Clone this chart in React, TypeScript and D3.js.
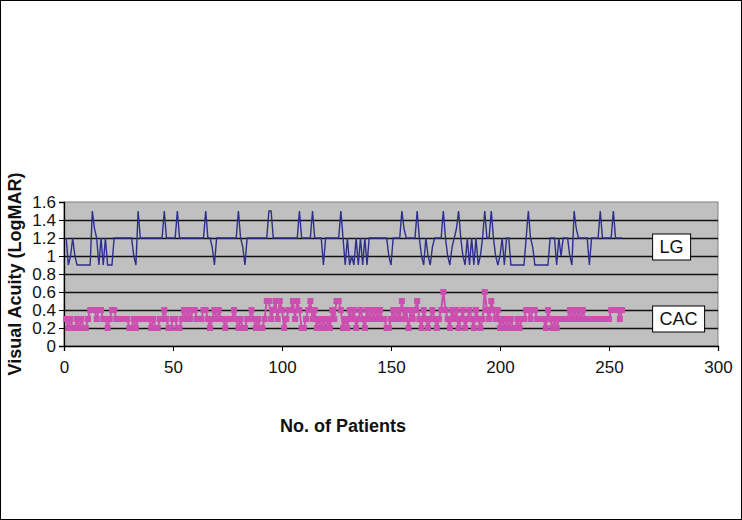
import { useEffect, useRef } from 'react';
import * as d3 from 'd3';

// Visual acuity per patient (LogMAR), patients 1..256
const lgValues = [
  1.2, 0.9, 1.0, 1.2, 1.0, 0.9, 0.9, 0.9, 0.9, 0.9,
  0.9, 0.9, 1.5, 1.3, 1.2, 0.9, 1.2, 0.9, 1.2, 0.9,
  0.9, 0.9, 1.2, 1.2, 1.2, 1.2, 1.2, 1.2, 1.2, 1.2,
  1.2, 1.0, 0.9, 1.5, 1.2, 1.2, 1.2, 1.2, 1.2, 1.2,
  1.2, 1.2, 1.2, 1.2, 1.2, 1.5, 1.2, 1.2, 1.2, 1.2,
  1.2, 1.5, 1.2, 1.2, 1.2, 1.2, 1.2, 1.2, 1.2, 1.2,
  1.2, 1.2, 1.2, 1.2, 1.5, 1.2, 1.2, 1.1, 0.9, 1.2,
  1.2, 1.2, 1.2, 1.2, 1.2, 1.2, 1.2, 1.2, 1.2, 1.5,
  1.2, 1.1, 0.9, 1.2, 1.2, 1.2, 1.2, 1.2, 1.2, 1.2,
  1.2, 1.2, 1.2, 1.5, 1.5, 1.2, 1.2, 1.2, 1.2, 1.2,
  1.2, 1.2, 1.2, 1.2, 1.2, 1.2, 1.2, 1.5, 1.2, 1.2,
  1.2, 1.2, 1.2, 1.5, 1.2, 1.2, 1.2, 1.2, 0.9, 1.2,
  1.2, 1.2, 1.2, 1.2, 1.2, 1.2, 1.5, 1.2, 0.9, 1.2,
  0.9, 1.0, 0.9, 1.2, 0.9, 1.2, 0.9, 1.2, 0.9, 1.2,
  1.2, 1.2, 1.2, 1.2, 1.2, 1.2, 1.2, 1.2, 1.0, 0.9,
  1.2, 1.2, 1.2, 1.2, 1.5, 1.3, 1.2, 1.2, 1.2, 1.2,
  1.2, 1.5, 1.2, 1.0, 0.9, 1.2, 1.0, 0.9, 1.1, 1.2,
  1.2, 1.2, 1.2, 1.5, 1.2, 1.0, 0.9, 1.1, 1.2, 1.3,
  1.5, 1.2, 1.0, 0.9, 1.2, 0.9, 1.2, 0.9, 1.2, 0.9,
  1.0, 1.2, 1.5, 1.2, 1.2, 1.5, 1.2, 1.0, 0.9, 1.0,
  1.2, 0.9, 1.2, 1.2, 0.9, 0.9, 0.9, 0.9, 0.9, 0.9,
  0.9, 1.2, 1.5, 1.2, 1.1, 0.9, 0.9, 0.9, 0.9, 0.9,
  0.9, 0.9, 1.2, 1.2, 1.2, 0.9, 1.2, 1.0, 1.2, 1.2,
  1.2, 1.0, 0.9, 1.5, 1.3, 1.2, 1.2, 1.2, 1.2, 1.2,
  0.9, 1.2, 1.2, 1.2, 1.2, 1.5, 1.2, 1.2, 1.2, 1.2,
  1.2, 1.5, 1.2, 1.2, 1.2, 1.2,
];

const cacValues = [
  0.3, 0.2, 0.3, 0.2, 0.2, 0.3, 0.2, 0.3, 0.2, 0.2,
  0.3, 0.4, 0.4, 0.4, 0.3, 0.4, 0.4, 0.3, 0.3, 0.2,
  0.3, 0.4, 0.4, 0.3, 0.3, 0.3, 0.3, 0.3, 0.3, 0.2,
  0.2, 0.3, 0.2, 0.3, 0.3, 0.3, 0.3, 0.3, 0.3, 0.2,
  0.3, 0.2, 0.2, 0.3, 0.3, 0.4, 0.3, 0.2, 0.2, 0.3,
  0.3, 0.2, 0.2, 0.3, 0.4, 0.3, 0.4, 0.3, 0.4, 0.4,
  0.3, 0.3, 0.3, 0.4, 0.4, 0.3, 0.2, 0.3, 0.4, 0.3,
  0.4, 0.3, 0.3, 0.2, 0.3, 0.3, 0.3, 0.4, 0.3, 0.2,
  0.3, 0.2, 0.2, 0.3, 0.3, 0.4, 0.3, 0.2, 0.3, 0.2,
  0.2, 0.3, 0.5, 0.5, 0.3, 0.4, 0.5, 0.3, 0.5, 0.4,
  0.2, 0.3, 0.4, 0.4, 0.5, 0.3, 0.5, 0.4, 0.2, 0.2,
  0.3, 0.4, 0.5, 0.3, 0.4, 0.2, 0.3, 0.2, 0.3, 0.2,
  0.3, 0.2, 0.4, 0.3, 0.5, 0.5, 0.4, 0.2, 0.3, 0.2,
  0.4, 0.3, 0.4, 0.2, 0.3, 0.4, 0.3, 0.2, 0.4, 0.3,
  0.4, 0.3, 0.4, 0.3, 0.4, 0.3, 0.3, 0.2, 0.2, 0.3,
  0.4, 0.3, 0.4, 0.3, 0.5, 0.3, 0.4, 0.2, 0.4, 0.3,
  0.4, 0.5, 0.3, 0.2, 0.4, 0.3, 0.2, 0.3, 0.4, 0.3,
  0.2, 0.3, 0.4, 0.6, 0.4, 0.3, 0.2, 0.4, 0.3, 0.4,
  0.2, 0.3, 0.4, 0.2, 0.3, 0.4, 0.3, 0.2, 0.4, 0.3,
  0.2, 0.3, 0.6, 0.4, 0.3, 0.5, 0.4, 0.3, 0.4, 0.2,
  0.3, 0.2, 0.3, 0.2, 0.3, 0.2, 0.2, 0.3, 0.2, 0.3,
  0.3, 0.4, 0.4, 0.3, 0.4, 0.4, 0.3, 0.3, 0.3, 0.3,
  0.2, 0.4, 0.3, 0.2, 0.3, 0.2, 0.3, 0.3, 0.3, 0.3,
  0.3, 0.4, 0.3, 0.4, 0.3, 0.4, 0.3, 0.4, 0.3, 0.3,
  0.3, 0.3, 0.3, 0.3, 0.3, 0.3, 0.3, 0.3, 0.3, 0.3,
  0.4, 0.4, 0.4, 0.4, 0.3, 0.4,
];

const xTicks = [0, 50, 100, 150, 200, 250, 300];
const yTicks = [0, 0.2, 0.4, 0.6, 0.8, 1, 1.2, 1.4, 1.6];
const seriesNames = ['LG', 'CAC'];
// level (LogMAR) at which each series name box sits
const seriesLabelLevels = [1.1, 0.3];

const W = 742;
const H = 520;
const FONT = '"Liberation Sans", Arial, sans-serif';

const App = () => {
  const svgRef = useRef<SVGSVGElement>(null);

  useEffect(() => {
    const svg = d3.select(svgRef.current);
    svg.selectAll('*').remove();

    const x = d3.scaleLinear().domain([0, 300]).range([64, 718]);
    const y = d3.scaleLinear().domain([0, 1.6]).range([346, 202]);

    // outer frame
    svg.append('rect')
      .attr('x', 0.5).attr('y', 0.5)
      .attr('width', W - 1).attr('height', H - 1)
      .attr('fill', 'white').attr('stroke', '#000');

    // plot area
    svg.append('rect')
      .attr('x', x(0)).attr('y', y(1.6))
      .attr('width', x(300) - x(0)).attr('height', y(0) - y(1.6))
      .attr('fill', '#c0c0c0').attr('stroke', '#808080');

    // gridlines
    svg.append('g')
      .selectAll('line')
      .data(yTicks.filter(d => d > 0 && d < 1.6))
      .enter()
      .append('line')
      .attr('x1', x(0)).attr('x2', x(300))
      .attr('y1', d => Math.round(y(d)) + 0.5).attr('y2', d => Math.round(y(d)) + 0.5)
      .attr('stroke', '#111').attr('stroke-width', 1.3);

    // axes
    const yAxis = d3.axisLeft(y)
      .tickValues(yTicks)
      .tickSize(5)
      .tickPadding(3)
      .tickFormat(d => String(d));
    const yg = svg.append('g').attr('transform', `translate(${x(0)},0)`).call(yAxis);

    const xAxis = d3.axisBottom(x)
      .tickValues(xTicks)
      .tickSize(5)
      .tickPadding(10)
      .tickFormat(d => String(d));
    const xg = svg.append('g').attr('transform', `translate(0,${y(0)})`).call(xAxis);

    [yg, xg].forEach(g => {
      g.select('.domain').attr('stroke', '#000').attr('stroke-width', 1.3);
      g.selectAll('.tick line').attr('stroke', '#000');
      g.selectAll('.tick text')
        .attr('fill', '#111')
        .style('font-family', FONT)
        .style('font-size', '17px');
    });

    // LG line
    const lgLine = d3.line<number>()
      .x((d, i) => x(i + 1))
      .y(d => y(d));
    svg.append('path')
      .datum(lgValues)
      .attr('d', lgLine)
      .attr('fill', 'none')
      .attr('stroke', '#2e2e8c')
      .attr('stroke-width', 1.4);

    // CAC line + square markers
    const cacColor = '#cc4fb0';
    svg.append('path')
      .datum(cacValues)
      .attr('d', lgLine)
      .attr('fill', 'none')
      .attr('stroke', cacColor)
      .attr('stroke-width', 2);
    svg.append('g')
      .selectAll('rect')
      .data(cacValues)
      .enter()
      .append('rect')
      .attr('x', (d, i) => x(i + 1) - 3)
      .attr('y', d => y(d) - 3)
      .attr('width', 6).attr('height', 6)
      .attr('fill', cacColor);

    // series name boxes
    seriesNames.forEach((name, i) => {
      const g = svg.append('g');
      const t = g.append('text')
        .attr('x', x(270) + 7)
        .attr('y', y(seriesLabelLevels[i]) + 6)
        .style('font-family', FONT)
        .style('font-size', '18px')
        .attr('fill', '#111')
        .text(name);
      const bb = (t.node() as SVGTextElement).getBBox();
      g.insert('rect', 'text')
        .attr('x', x(270))
        .attr('y', y(seriesLabelLevels[i]) - 13)
        .attr('width', bb.width + 14)
        .attr('height', 26)
        .attr('fill', 'white')
        .attr('stroke', '#000');
    });

    // axis titles
    svg.append('text')
      .attr('transform', `translate(21,${(y(0) + y(1.6)) / 2}) rotate(-90)`)
      .attr('text-anchor', 'middle')
      .style('font-family', FONT)
      .style('font-size', '18px')
      .style('font-weight', 'bold')
      .attr('fill', '#111')
      .text('Visual Acuity (LogMAR)');

    svg.append('text')
      .attr('x', 343)
      .attr('y', 432)
      .attr('text-anchor', 'middle')
      .style('font-family', FONT)
      .style('font-size', '18px')
      .style('font-weight', 'bold')
      .attr('fill', '#111')
      .text('No. of Patients');
  }, []);

  return (
    <svg
      ref={svgRef}
      width={W}
      height={H}
      style={{ position: 'absolute', left: 0, top: 0, background: 'white' }}
    />
  );
};

export default App;
